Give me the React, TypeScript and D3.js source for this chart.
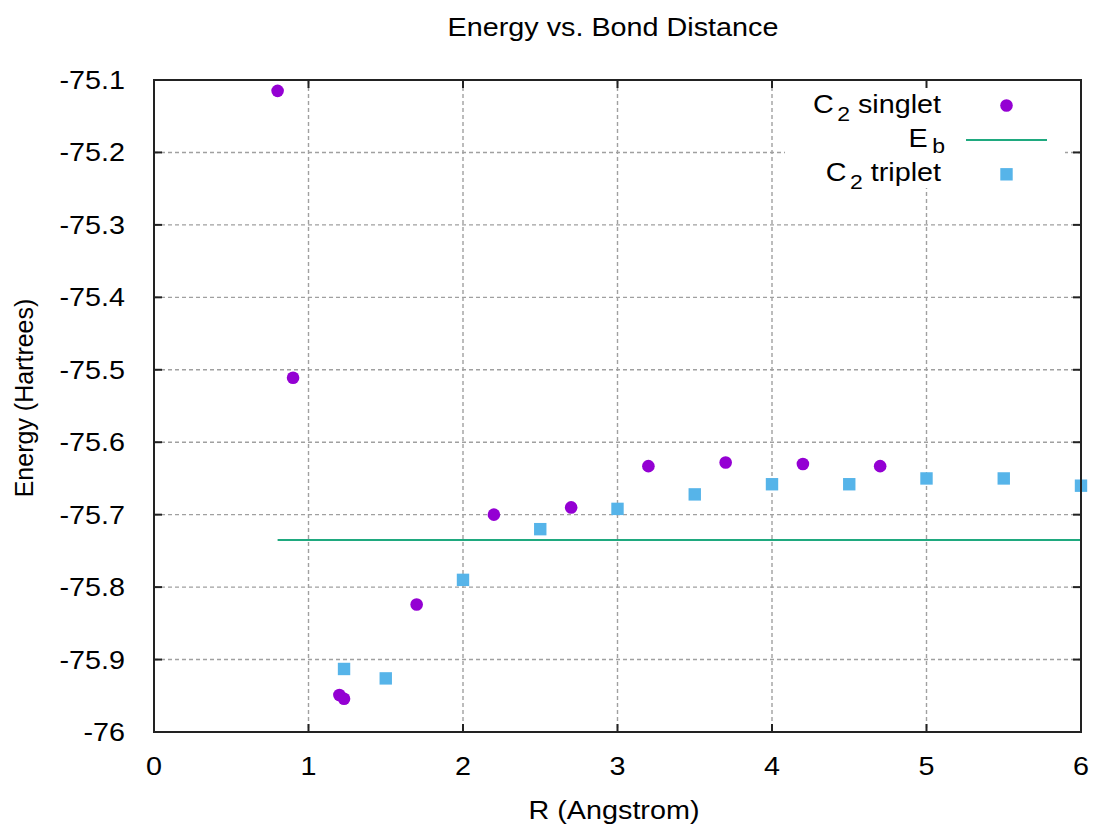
import React from "react";
import * as d3 from "d3";

const singletR = [0.8, 0.9, 1.2, 1.23, 1.7, 2.2, 2.7, 3.2, 3.7, 4.2, 4.7];
const singletE = [-75.115, -75.511, -75.949, -75.954, -75.824, -75.7, -75.69, -75.633, -75.628, -75.63, -75.633];
const tripletR = [1.23, 1.5, 2.0, 2.5, 3.0, 3.5, 4.0, 4.5, 5.0, 5.5, 6.0];
const tripletE = [-75.913, -75.926, -75.79, -75.72, -75.692, -75.672, -75.658, -75.658, -75.65, -75.65, -75.66];
const ebR = [0.8, 6.0];
const ebE = [-75.735, -75.735];
const xTicks = [0, 1, 2, 3, 4, 5, 6];
const yTicks = [-75.1, -75.2, -75.3, -75.4, -75.5, -75.6, -75.7, -75.8, -75.9, -76];
const yTickLabels = ["-75.1", "-75.2", "-75.3", "-75.4", "-75.5", "-75.6", "-75.7", "-75.8", "-75.9", "-76"];

const W = 1094, H = 833;
const L = 154, R = 1081, T = 80, B = 732;
const FONT = "'Liberation Sans', Arial, sans-serif";
const FS = 25;
const SX = 1.15;
const PURPLE = "#9400D3";
const BLUE = "#56B4E9";
const GREEN = "#1fa97f";
const GRID = "#a0a0a0";

export default function App() {
  const x = d3.scaleLinear().domain([0, 6]).range([L, R]);
  const y = d3.scaleLinear().domain([-76, -75.1]).range([B, T]);
  const line = d3.line<number>().x((d, i) => x(ebR[i])).y((d) => y(d));

  const txt = (px: number, py: number, s: string, anchor: string, extra: any = {}) => (
    <text
      transform={`translate(${px},${py}) scale(${SX},1)`}
      textAnchor={anchor}
      fontFamily={FONT}
      fontSize={FS}
      fill="#000"
      {...extra}
    >
      {s}
    </text>
  );

  return (
    <svg width={W} height={H} style={{ position: "absolute", left: 0, top: 0, background: "#fff" }}>
      <rect x={0} y={0} width={W} height={H} fill="#fff" />
      {/* grid */}
      {xTicks.filter((t) => t > 0 && t < 6).map((t) => (
        <line key={"gx" + t} x1={x(t)} x2={x(t)} y1={T} y2={B} stroke={GRID} strokeWidth={1.4} strokeDasharray="4,3" />
      ))}
      {yTicks.filter((t) => t > -76 && t < -75.1).map((t) => (
        <line key={"gy" + t} x1={L} x2={R} y1={y(t)} y2={y(t)} stroke={GRID} strokeWidth={1.4} strokeDasharray="4,3" />
      ))}
      {/* key background */}
      <rect x={785} y={T + 1} width={280} height={107} fill="#fff" />
      {/* Eb line */}
      <path d={line(ebE) || ""} fill="none" stroke={GREEN} strokeWidth={2} />
      {/* singlet */}
      {singletR.map((r, i) => (
        <circle key={"s" + i} cx={x(r)} cy={y(singletE[i])} r={6.3} fill={PURPLE} />
      ))}
      {/* triplet */}
      {tripletR.map((r, i) => (
        <rect key={"t" + i} x={x(r) - 6.2} y={y(tripletE[i]) - 6.2} width={12.4} height={12.4} fill={BLUE} />
      ))}
      {/* frame */}
      <rect x={L} y={T} width={R - L} height={B - T} fill="none" stroke="#222" strokeWidth={2} />
      {/* ticks */}
      {xTicks.map((t) => (
        <g key={"tx" + t}>
          <line x1={x(t)} x2={x(t)} y1={B} y2={B - 8} stroke="#222" strokeWidth={2} />
          <line x1={x(t)} x2={x(t)} y1={T} y2={T + 8} stroke="#222" strokeWidth={2} />
          {txt(x(t), 775, String(t), "middle")}
        </g>
      ))}
      {yTicks.map((t, i) => (
        <g key={"ty" + i}>
          <line x1={L} x2={L + 8} y1={y(t)} y2={y(t)} stroke="#222" strokeWidth={2} />
          <line x1={R} x2={R - 8} y1={y(t)} y2={y(t)} stroke="#222" strokeWidth={2} />
          {txt(125, y(t) + 9, yTickLabels[i], "end")}
        </g>
      ))}
      {/* title & axis labels */}
      {txt(613, 36, "Energy vs. Bond Distance", "middle")}
      {txt(614, 819, "R (Angstrom)", "middle")}
      <text
        transform={`translate(33,398) rotate(-90)`}
        textAnchor="middle"
        fontFamily={FONT}
        fontSize={FS}
        fill="#000"
      >
        Energy (Hartrees)
      </text>
      {/* legend */}
      <text transform={`translate(941,113) scale(${SX},1)`} textAnchor="end" fontFamily={FONT} fontSize={FS} fill="#000">
        <tspan>C</tspan>
        <tspan dx={3} dy={8} fontSize={20}>2</tspan>
        <tspan dy={-8}>{"\u00a0singlet"}</tspan>
      </text>
      <circle cx={1006.5} cy={105.5} r={6.3} fill={PURPLE} />
      <text transform={`translate(945,147) scale(${SX},1)`} textAnchor="end" fontFamily={FONT} fontSize={FS} fill="#000">
        <tspan>E</tspan>
        <tspan dx={4} dy={6} fontSize={20}>b</tspan>
      </text>
      <line x1={966} x2={1047} y1={140} y2={140} stroke={GREEN} strokeWidth={2} />
      <text transform={`translate(941,181) scale(${SX},1)`} textAnchor="end" fontFamily={FONT} fontSize={FS} fill="#000">
        <tspan>C</tspan>
        <tspan dx={3} dy={8} fontSize={20}>2</tspan>
        <tspan dy={-8}>{"\u00a0triplet"}</tspan>
      </text>
      <rect x={1006.5 - 6.2} y={174.3 - 6.2} width={12.4} height={12.4} fill={BLUE} />
    </svg>
  );
}
